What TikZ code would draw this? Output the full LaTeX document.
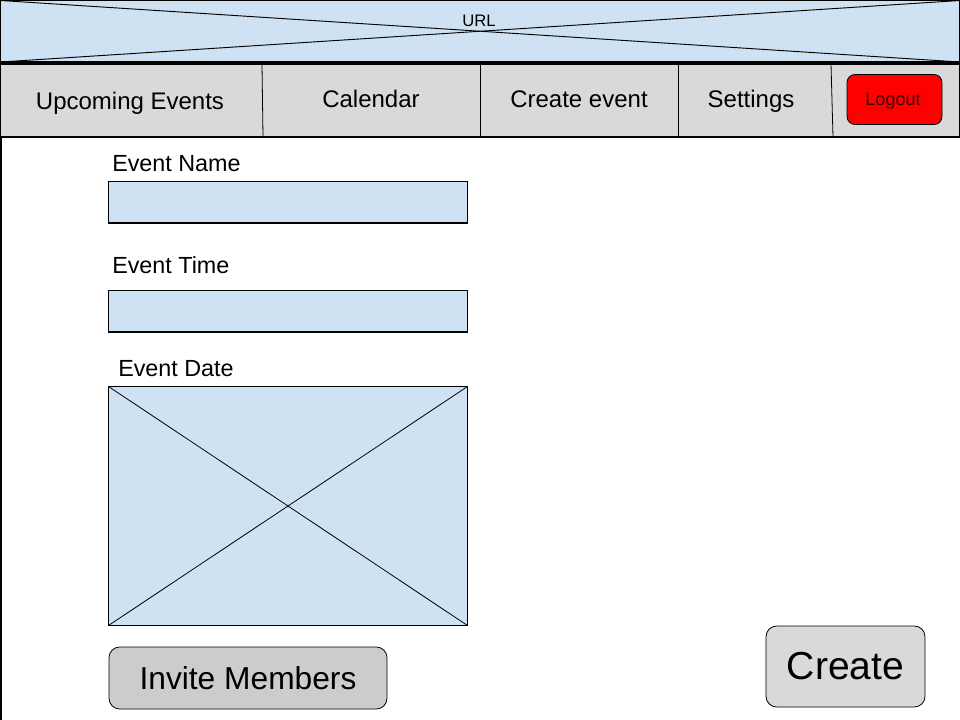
\documentclass[tikz,border=0pt]{standalone}
\usepackage{fontspec}
\setmainfont{Liberation Sans}
\definecolor{fieldblue}{HTML}{CFE2F3}
\definecolor{navgray}{HTML}{D9D9D9}
\definecolor{btngray}{HTML}{CCCCCC}
\definecolor{logoutred}{HTML}{FF0000}
\definecolor{logouttext}{HTML}{3A0000}
\begin{document}
\begin{tikzpicture}[x=0.75pt,y=-0.75pt,
  field/.style={draw=black,line width=0.9pt,fill=fieldblue},
  navtext/.style={font=\fontsize{18}{20}\selectfont,anchor=base},
  label/.style={font=\fontsize{17.5}{20}\selectfont,anchor=base west,inner sep=0pt},
  sep/.style={draw=black,line width=0.6pt},
  button/.style={draw=black,line width=0.6pt,rounded corners=8pt}]
\useasboundingbox (0,0) rectangle (960,720);
\fill[white] (0,0) rectangle (960,720);
% URL bar
\path[field] (0.5,0.5) rectangle (960,62);
\coordinate (u1) at (0.5,0.5);
\coordinate (u2) at (960,62);
\coordinate (u3) at (0.5,62);
\coordinate (u4) at (960,0.5);
\draw[line width=0.7pt] (u1) -- (u2);
\draw[line width=0.7pt] (u3) -- (u4);
\node[font=\fontsize{12.5}{14}\selectfont] (url) at (479,20.5) {URL};
% nav bar
\path[draw=black,line width=0.9pt,fill=navgray] (0.5,64) rectangle (960,137);
\coordinate (s1t) at (262,64); \coordinate (s1b) at (263,137);
\coordinate (s2t) at (480,64); \coordinate (s2b) at (480,137);
\coordinate (s3t) at (678,64); \coordinate (s3b) at (678,137);
\coordinate (s4t) at (831,64); \coordinate (s4b) at (833,137);
\draw[sep] (s1t) -- (s1b);
\draw[sep] (s2t) -- (s2b);
\draw[sep] (s3t) -- (s3b);
\draw[sep] (s4t) -- (s4b);
\node[navtext] (nav1) at (130,110) {Upcoming Events};
\node[navtext] (nav2) at (371,108) {Calendar};
\node[navtext] (nav3) at (579,108) {Create event};
\node[navtext] (nav4) at (751,108) {Settings};
\node[button,fill=logoutred,minimum width=95*0.75pt,minimum height=50*0.75pt,
  rounded corners=6pt] (logout) at (894.5,99.5) {};
\node[font=\fontsize{13.5}{15}\selectfont,text=logouttext,anchor=base] (logouttxt) at (893,106) {Logout};
% left page border
\coordinate (lb1) at (1,137);
\coordinate (lb2) at (1,720);
\draw[line width=0.9pt] (lb1) -- (lb2);
% fields
\node[label] (lname) at (112,172) {Event Name};
\path[field] (108.5,181.5) rectangle (467.5,223) coordinate (fname);
\node[label] (ltime) at (112,274) {Event Time};
\path[field] (108.5,290.5) rectangle (467.5,332) coordinate (ftime);
\node[label] (ldate) at (118,376) {Event Date};
\path[field] (108.5,386.5) rectangle (467.5,625.5);
\coordinate (d1) at (108.5,386.5);
\coordinate (d2) at (467.5,625.5);
\coordinate (d3) at (108.5,625.5);
\coordinate (d4) at (467.5,386.5);
\draw[line width=0.6pt] (d1) -- (d2);
\draw[line width=0.6pt] (d3) -- (d4);
% buttons
\node[button,fill=btngray,minimum width=278*0.75pt,minimum height=62*0.75pt,
  font=\fontsize{23.8}{26}\selectfont] (invite) at (248,678) {Invite Members};
\node[button,fill=navgray,minimum width=159*0.75pt,minimum height=81*0.75pt,
  font=\fontsize{29.3}{32}\selectfont] (create) at (845.5,666.5) {Create};
\end{tikzpicture}
\end{document}
